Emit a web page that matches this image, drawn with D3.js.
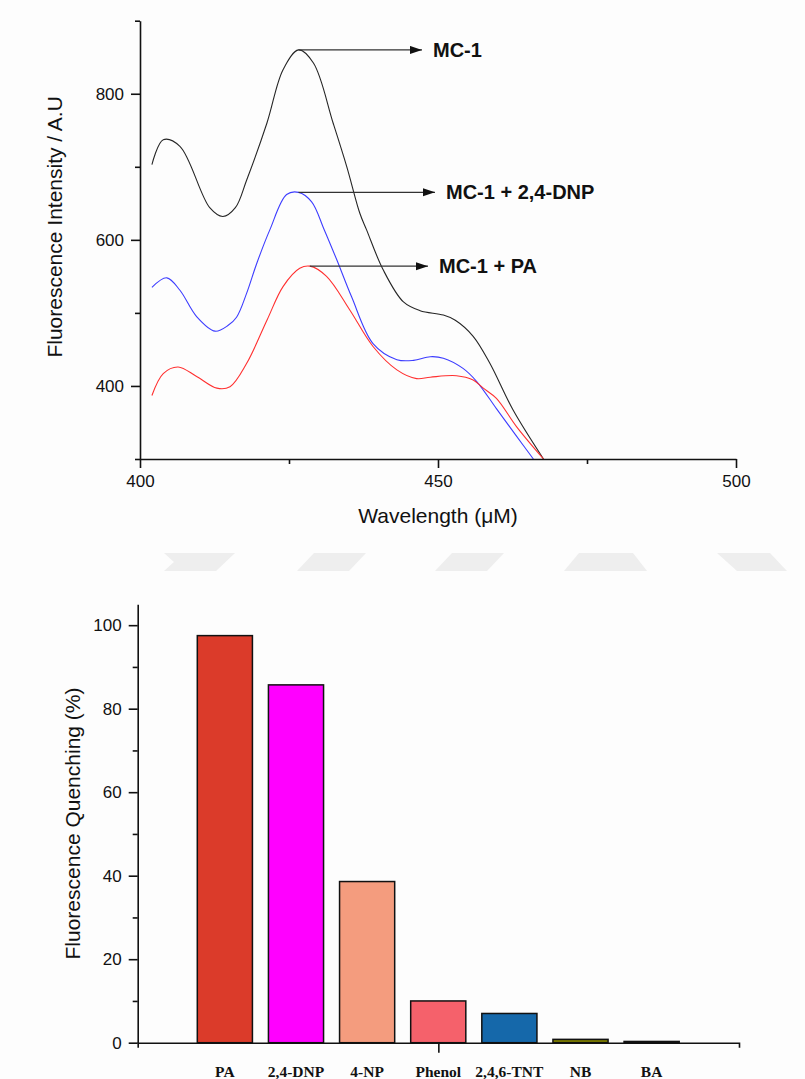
<!DOCTYPE html>
<html>
<head>
<meta charset="utf-8">
<script src="https://cdn.jsdelivr.net/npm/d3@7"></script>
<style>
  body { margin: 0; background: #fdfdfd; }
  svg { display: block; }
  .axis path, .axis line { stroke: #111; stroke-width: 1.6; }
  .axis text { font-family: "Liberation Sans", Arial, sans-serif; font-size: 17px; fill: #111; }
</style>
</head>
<body>
<div id="chart"></div>
<script>
// ---- spectra (wavelength nm / intensity a.u.) ----
var mc1Wl  = [402, 403.9, 406.7, 411.7, 413.9, 416, 417.9, 421.3, 424, 426.6, 429.1, 432.4, 434.7, 436.9, 438, 440.8, 444.2, 447, 450.9, 452.9, 455.9, 458.7, 462.6, 467.7];
var mc1Int = [703, 737, 728, 644, 632, 644, 682, 760, 833, 860, 842, 760, 700, 636, 614, 559, 515, 503, 497, 490, 468, 431, 367, 300];

var dnpWl  = [402, 404.5, 406.7, 409.5, 412.6, 414.8, 416.2, 417.9, 419.6, 421.8, 424.6, 426.6, 428.8, 430.8, 433, 435.5, 439.1, 443.1, 445.9, 448.7, 450.9, 454.2, 456.5, 459.8, 463.2, 466];
var dnpInt = [535, 548, 531, 495, 475, 483, 494, 527, 568, 614, 662, 665, 652, 616, 573, 522, 458, 436, 435, 440, 438, 424, 406, 369, 331, 300];

var paWl   = [402, 403.9, 406.4, 409.5, 412.9, 415.1, 417.9, 421.3, 424, 426.8, 428.5, 431.3, 435.2, 439.1, 443.1, 446.4, 448.7, 453.1, 455.9, 457.6, 459.8, 463.2, 467.7];
var paInt  = [387, 417, 426, 413, 397, 399, 431, 490, 536, 561, 564, 550, 504, 454, 422, 410, 412, 414, 408, 397, 383, 344, 300];

var seriesNames  = ["MC-1", "MC-1 + 2,4-DNP", "MC-1 + PA"];
var seriesColors = ["#262626", "#3d3dff", "#ff3030"];

var wlMajor  = [400, 450, 500];
var wlMinor  = [425, 475];
var intMajor = [400, 600, 800];
var intMinor = [300, 500, 700, 900];

// ---- quenching bars ----
var analytes  = ["PA", "2,4-DNP", "4-NP", "Phenol", "2,4,6-TNT", "NB", "BA"];
var quenching = [97.5, 85.7, 38.6, 10, 7, 0.8, 0.3];
var barColors = ["#db3b2a", "#ff00ff", "#f49c7e", "#f5616b", "#1568aa", "#7a7a00", "#555555"];
var qMajor = [0, 20, 40, 60, 80, 100];
var qMinor = [10, 30, 50, 70, 90];

var W = 805, H = 1079;
var svg = d3.select("#chart").append("svg").attr("width", W).attr("height", H);

// faint page watermark between the two panels
var wm = [
  [[164,553],[235,553],[216,571],[164,571],[174,562]],
  [[314,553],[366,553],[349,571],[297,571]],
  [[452,553],[504,553],[487,571],[435,571]],
  [[579,553],[633,553],[647,571],[564,571]],
  [[717,553],[770,553],[787,571],[737,571]]
];
svg.selectAll("polygon.wm").data(wm).enter().append("polygon")
  .attr("class", "wm")
  .attr("points", function(d){ return d.map(function(p){ return p.join(","); }).join(" "); })
  .attr("fill", "#eeeeee");

// ================= top panel: spectra =================
var x1 = d3.scaleLinear().domain([400, 500]).range([140, 736]);
var y1 = d3.scaleLinear().domain([300, 900]).range([459, 20.7]);

svg.append("defs").append("clipPath").attr("id", "plotclip")
  .append("rect").attr("x", 140).attr("y", 20).attr("width", 596).attr("height", 439.5);

svg.append("defs").append("marker")
  .attr("id", "arrow").attr("markerUnits", "userSpaceOnUse")
  .attr("markerWidth", 13).attr("markerHeight", 9)
  .attr("refX", 12).attr("refY", 4).attr("orient", "auto")
  .append("path").attr("d", "M0,0 L12,4 L0,8 Z").attr("fill", "#111");

var spectra = [
  {wl: mc1Wl, val: mc1Int},
  {wl: dnpWl, val: dnpInt},
  {wl: paWl,  val: paInt}
];

var line = d3.line()
  .x(function(d){ return x1(d[0]); })
  .y(function(d){ return y1(d[1]); })
  .curve(d3.curveCatmullRom.alpha(0.5));

svg.append("g").attr("clip-path", "url(#plotclip)")
  .selectAll("path").data(spectra).enter().append("path")
  .attr("d", function(s){ return line(d3.zip(s.wl, s.val)); })
  .attr("fill", "none")
  .attr("stroke", function(s, i){ return seriesColors[i]; })
  .attr("stroke-width", 1.1);

// peak annotations
var labelX = [433, 446, 439];
spectra.forEach(function(s, i){
  var k = d3.maxIndex(s.val);
  var px = x1(s.wl[k]), py = y1(s.val[k]);
  svg.append("line")
    .attr("x1", px).attr("y1", py).attr("x2", labelX[i] - 11).attr("y2", py)
    .attr("stroke", "#333").attr("stroke-width", 1.2)
    .attr("marker-end", "url(#arrow)");
  svg.append("text")
    .attr("x", labelX[i]).attr("y", py + 7)
    .attr("font-family", "Liberation Sans, Arial, sans-serif")
    .attr("font-weight", "bold").attr("font-size", 20)
    .attr("fill", "#111")
    .text(seriesNames[i]);
});

// axes
svg.append("g").attr("class", "axis").attr("transform", "translate(140,0)")
  .call(d3.axisLeft(y1).tickValues(intMajor).tickSize(9).tickSizeOuter(0).tickPadding(7));
svg.append("g").attr("class", "axis").attr("transform", "translate(140,0)")
  .call(d3.axisLeft(y1).tickValues(intMinor).tickSize(5).tickFormat(""))
  .select(".domain").remove();

svg.append("g").attr("class", "axis").attr("transform", "translate(0,459)")
  .call(d3.axisBottom(x1).tickValues(wlMajor).tickSize(9).tickSizeOuter(0).tickPadding(7));
svg.append("g").attr("class", "axis").attr("transform", "translate(0,459)")
  .call(d3.axisBottom(x1).tickValues(wlMinor).tickSize(5).tickFormat(""))
  .select(".domain").remove();

svg.append("text")
  .attr("x", x1(450)).attr("y", 523)
  .attr("text-anchor", "middle")
  .attr("font-family", "Liberation Sans, Arial, sans-serif").attr("font-size", 21)
  .attr("fill", "#111")
  .text("Wavelength (μM)");

svg.append("text")
  .attr("transform", "translate(62," + ((20.7 + 459) / 2 - 13) + ") rotate(-90)")
  .attr("text-anchor", "middle")
  .attr("font-family", "Liberation Sans, Arial, sans-serif").attr("font-size", 21)
  .attr("fill", "#111")
  .text("Fluorescence Intensity / A.U");

// ================= bottom panel: quenching =================
var x2 = d3.scaleBand().domain(analytes).range([189.3, 687.2])
  .paddingInner(0.225).paddingOuter(0.1125);
var y2 = d3.scaleLinear().domain([0, 105]).range([1042.7, 604.3]);

svg.append("g").selectAll("rect").data(analytes).enter().append("rect")
  .attr("x", function(d){ return x2(d); })
  .attr("y", function(d, i){ return y2(quenching[i]); })
  .attr("width", x2.bandwidth())
  .attr("height", function(d, i){ return y2(0) - y2(quenching[i]); })
  .attr("fill", function(d, i){ return barColors[i]; })
  .attr("stroke", "#111").attr("stroke-width", 1.5);

var xLine = d3.scaleLinear().domain([0, 1]).range([137.7, 739]);
svg.append("g").attr("class", "axis").attr("transform", "translate(0," + y2(0) + ")")
  .call(d3.axisBottom(xLine).tickValues([0.5]).tickSize(10).tickSizeOuter(5).tickFormat(""));

svg.append("g").attr("class", "axis").attr("transform", "translate(137.7,0)")
  .call(d3.axisLeft(y2).tickValues(qMajor).tickSize(9).tickSizeOuter(0).tickPadding(7));
svg.append("g").attr("class", "axis").attr("transform", "translate(137.7,0)")
  .call(d3.axisLeft(y2).tickValues(qMinor).tickSize(5).tickFormat(""))
  .select(".domain").remove();

svg.append("g").selectAll("text").data(analytes).enter().append("text")
  .attr("x", function(d){ return x2(d) + x2.bandwidth() / 2; })
  .attr("y", 1077)
  .attr("text-anchor", "middle")
  .attr("font-family", "Liberation Serif, Times New Roman, serif")
  .attr("font-weight", "bold").attr("font-size", 15.5)
  .attr("fill", "#111")
  .text(function(d){ return d; });

svg.append("text")
  .attr("transform", "translate(80," + ((604.3 + 1042.7) / 2) + ") rotate(-90)")
  .attr("text-anchor", "middle")
  .attr("font-family", "Liberation Sans, Arial, sans-serif").attr("font-size", 21)
  .attr("fill", "#111")
  .text("Fluorescence Quenching (%)");
</script>
</body>
</html>
